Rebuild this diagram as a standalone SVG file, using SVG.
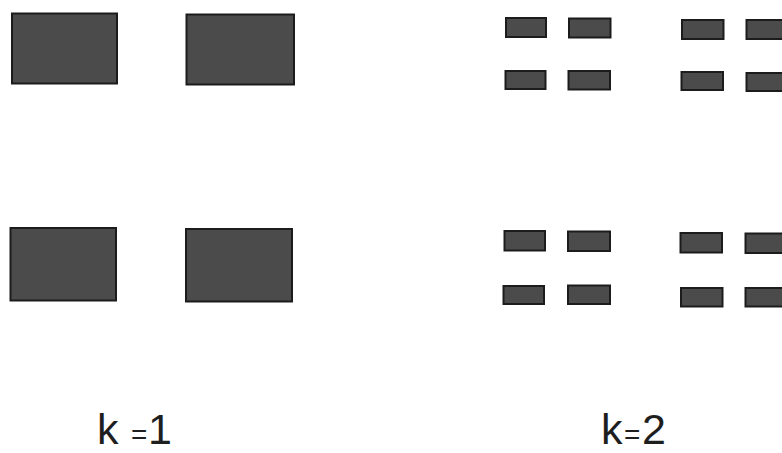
<svg xmlns="http://www.w3.org/2000/svg" width="782" height="453" viewBox="0 0 782 453">
<style>
.b{fill:#4b4b4b;stroke:#1c1c1c;stroke-width:2}
.t{font-family:"Liberation Sans",Arial,sans-serif;font-size:43px;fill:#1e1e1e}
.eq{font-size:28px}
</style>
<rect width="782" height="453" fill="#ffffff"/>
<g id="k1">
<g id="k1-a"><rect class="b" x="12" y="13.5" width="105" height="70"/></g>
<g id="k1-b"><rect class="b" x="186.5" y="14.5" width="107.5" height="70"/></g>
<g id="k1-c"><rect class="b" x="10.5" y="228" width="105.5" height="72.5"/></g>
<g id="k1-d"><rect class="b" x="186" y="229" width="106" height="72.5"/></g>
</g>
<g id="k2">
<g id="k2-r1">
<rect class="b" x="506" y="18" width="40" height="19"/>
<rect class="b" x="569" y="18.5" width="41.5" height="19"/>
<rect class="b" x="682" y="20" width="41.5" height="19"/>
<rect class="b" x="746.5" y="20" width="41.5" height="19"/>
</g>
<g id="k2-r2">
<rect class="b" x="505.5" y="71" width="40" height="18"/>
<rect class="b" x="568.5" y="71" width="41.5" height="18.5"/>
<rect class="b" x="681.5" y="72" width="41.5" height="18"/>
<rect class="b" x="746.5" y="73" width="41.5" height="18"/>
</g>
<g id="k2-r3">
<rect class="b" x="504.5" y="231" width="40.5" height="19.5"/>
<rect class="b" x="568" y="231.5" width="42" height="19.5"/>
<rect class="b" x="680.5" y="233" width="41.5" height="19.5"/>
<rect class="b" x="745.5" y="233.5" width="41.5" height="19.5"/>
</g>
<g id="k2-r4">
<rect class="b" x="503.5" y="286" width="40.5" height="18"/>
<rect class="b" x="568" y="285.5" width="42" height="18.5"/>
<rect class="b" x="681" y="288" width="41.5" height="18.5"/>
<rect class="b" x="745.5" y="288" width="41.5" height="18.5"/>
</g>
</g>
<g id="labels">
<text class="t" y="444"><tspan x="97">k </tspan><tspan x="131" class="eq">=</tspan><tspan x="148">1</tspan></text>
<text class="t" y="444"><tspan x="601">k</tspan><tspan x="624" class="eq">=</tspan><tspan x="642">2</tspan></text>
</g>
</svg>
